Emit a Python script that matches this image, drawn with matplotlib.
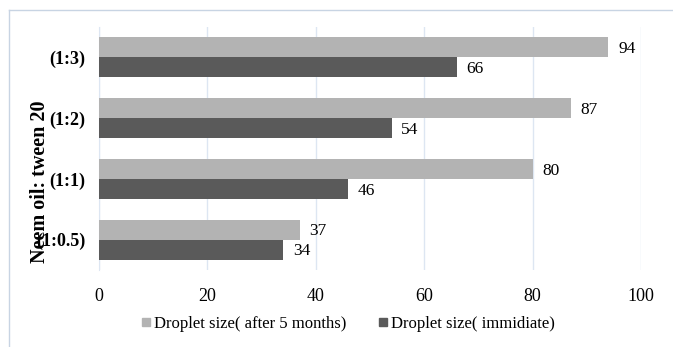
import matplotlib
matplotlib.use("Agg")
import matplotlib.pyplot as plt
from matplotlib.lines import Line2D

categories = ["(1:0.5)", "(1:1)", "(1:2)", "(1:3)"]
after_5_months = [37, 80, 87, 94]
immediate = [34, 46, 54, 66]
xticks = [0, 20, 40, 60, 80, 100]
series_names = ["Droplet size( after 5 months)", "Droplet size( immidiate)"]
ylabel = "Neem oil: tween 20"

plt.rcParams['font.family'] = ['Liberation Serif', 'DejaVu Serif']

fig = plt.figure(figsize=(6.73, 3.47), dpi=100)
ax = fig.add_axes([99/673, 1-270/347, (641-99)/673, (270-27)/347])

light = "#b3b3b3"
dark = "#5a5a5a"
h = 0.33
ys = list(range(len(categories)))
ax.barh([y + h/2 for y in ys], after_5_months, height=h, color=light, zorder=3)
ax.barh([y - h/2 for y in ys], immediate, height=h, color=dark, zorder=3)

for y, v in zip(ys, after_5_months):
    ax.text(v + 1.8, y + h/2 - 0.03, str(v), va='center', ha='left', fontsize=12.5)
for y, v in zip(ys, immediate):
    ax.text(v + 1.8, y - h/2 - 0.03, str(v), va='center', ha='left', fontsize=12.5)

ax.set_xlim(0, 100)
ax.set_ylim(-0.5, len(categories) - 0.5)
ax.set_xticks(xticks)
ax.set_xticklabels([str(t) for t in xticks], fontsize=13)
ax.set_yticks(ys)
ax.set_yticklabels(categories, fontsize=13, fontweight='bold')
ax.tick_params(axis='both', length=0)
ax.tick_params(axis='x', pad=13)
ax.tick_params(axis='y', pad=10)
ax.grid(axis='x', color='#dde6f2', linewidth=1, zorder=0)
for s in ['top', 'right', 'bottom']:
    ax.spines[s].set_visible(False)
ax.spines['left'].set_color('#dde6f2')

fig.text(40/673, 1-182/347, ylabel, rotation=90, ha='center', va='center',
         fontsize=14.5, fontweight='bold')

handles = [Line2D([], [], marker='s', linestyle='none', color=light, markersize=6),
           Line2D([], [], marker='s', linestyle='none', color=dark, markersize=6)]
fig.legend(handles, series_names, loc='center', bbox_to_anchor=(348/673, 1-324/347),
           ncol=2, frameon=False, fontsize=12, handlelength=0.6, handletextpad=0.2,
           columnspacing=1.9)

# outer border (left and top)
fig.add_artist(Line2D([9/673, 9/673], [0, 1-10/347], transform=fig.transFigure,
                      color='#c8d4e3', linewidth=1))
fig.add_artist(Line2D([9/673, 1], [1-10/347, 1-10/347], transform=fig.transFigure,
                      color='#c8d4e3', linewidth=1))

fig.savefig("out.png", dpi=100)
